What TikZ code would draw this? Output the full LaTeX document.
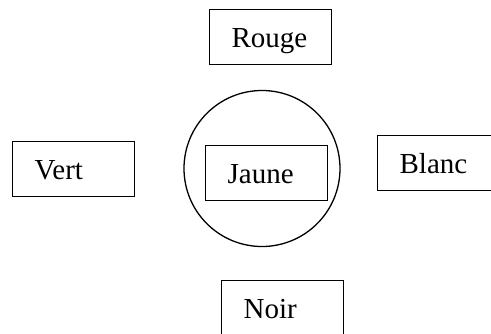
\documentclass[tikz,border=0pt]{standalone}
\usepackage{fontspec}
\setmainfont{Liberation Serif}
\usetikzlibrary{positioning}

\begin{document}
\begin{tikzpicture}[x=1pt,y=-1pt]
	\useasboundingbox (0,0) rectangle (491,333);
	\clip (0,0) rectangle (491,333);
	\node[circle, draw, line width=1.3pt, minimum size=156pt, inner sep=0pt] (ring) at (262,168.5) {};
	\begin{scope}[every node/.style={rectangle, draw, line width=1.3pt, anchor=north west,
	              font=\fontsize{29}{34}\selectfont, text width=78pt, align=left,
	              inner xsep=22pt, inner ysep=0pt, text height=38pt, text depth=17pt}]
		\node (rouge) at (209,9) {Rouge};
		\node (jaune) at (205,145) {Jaune};
		\node (vert) at (12,141) {Vert};
		\node (blanc) at (377,135) {Blanc};
		\node (noir) at (221,280) {Noir};
	\end{scope}
\end{tikzpicture}
\end{document}
